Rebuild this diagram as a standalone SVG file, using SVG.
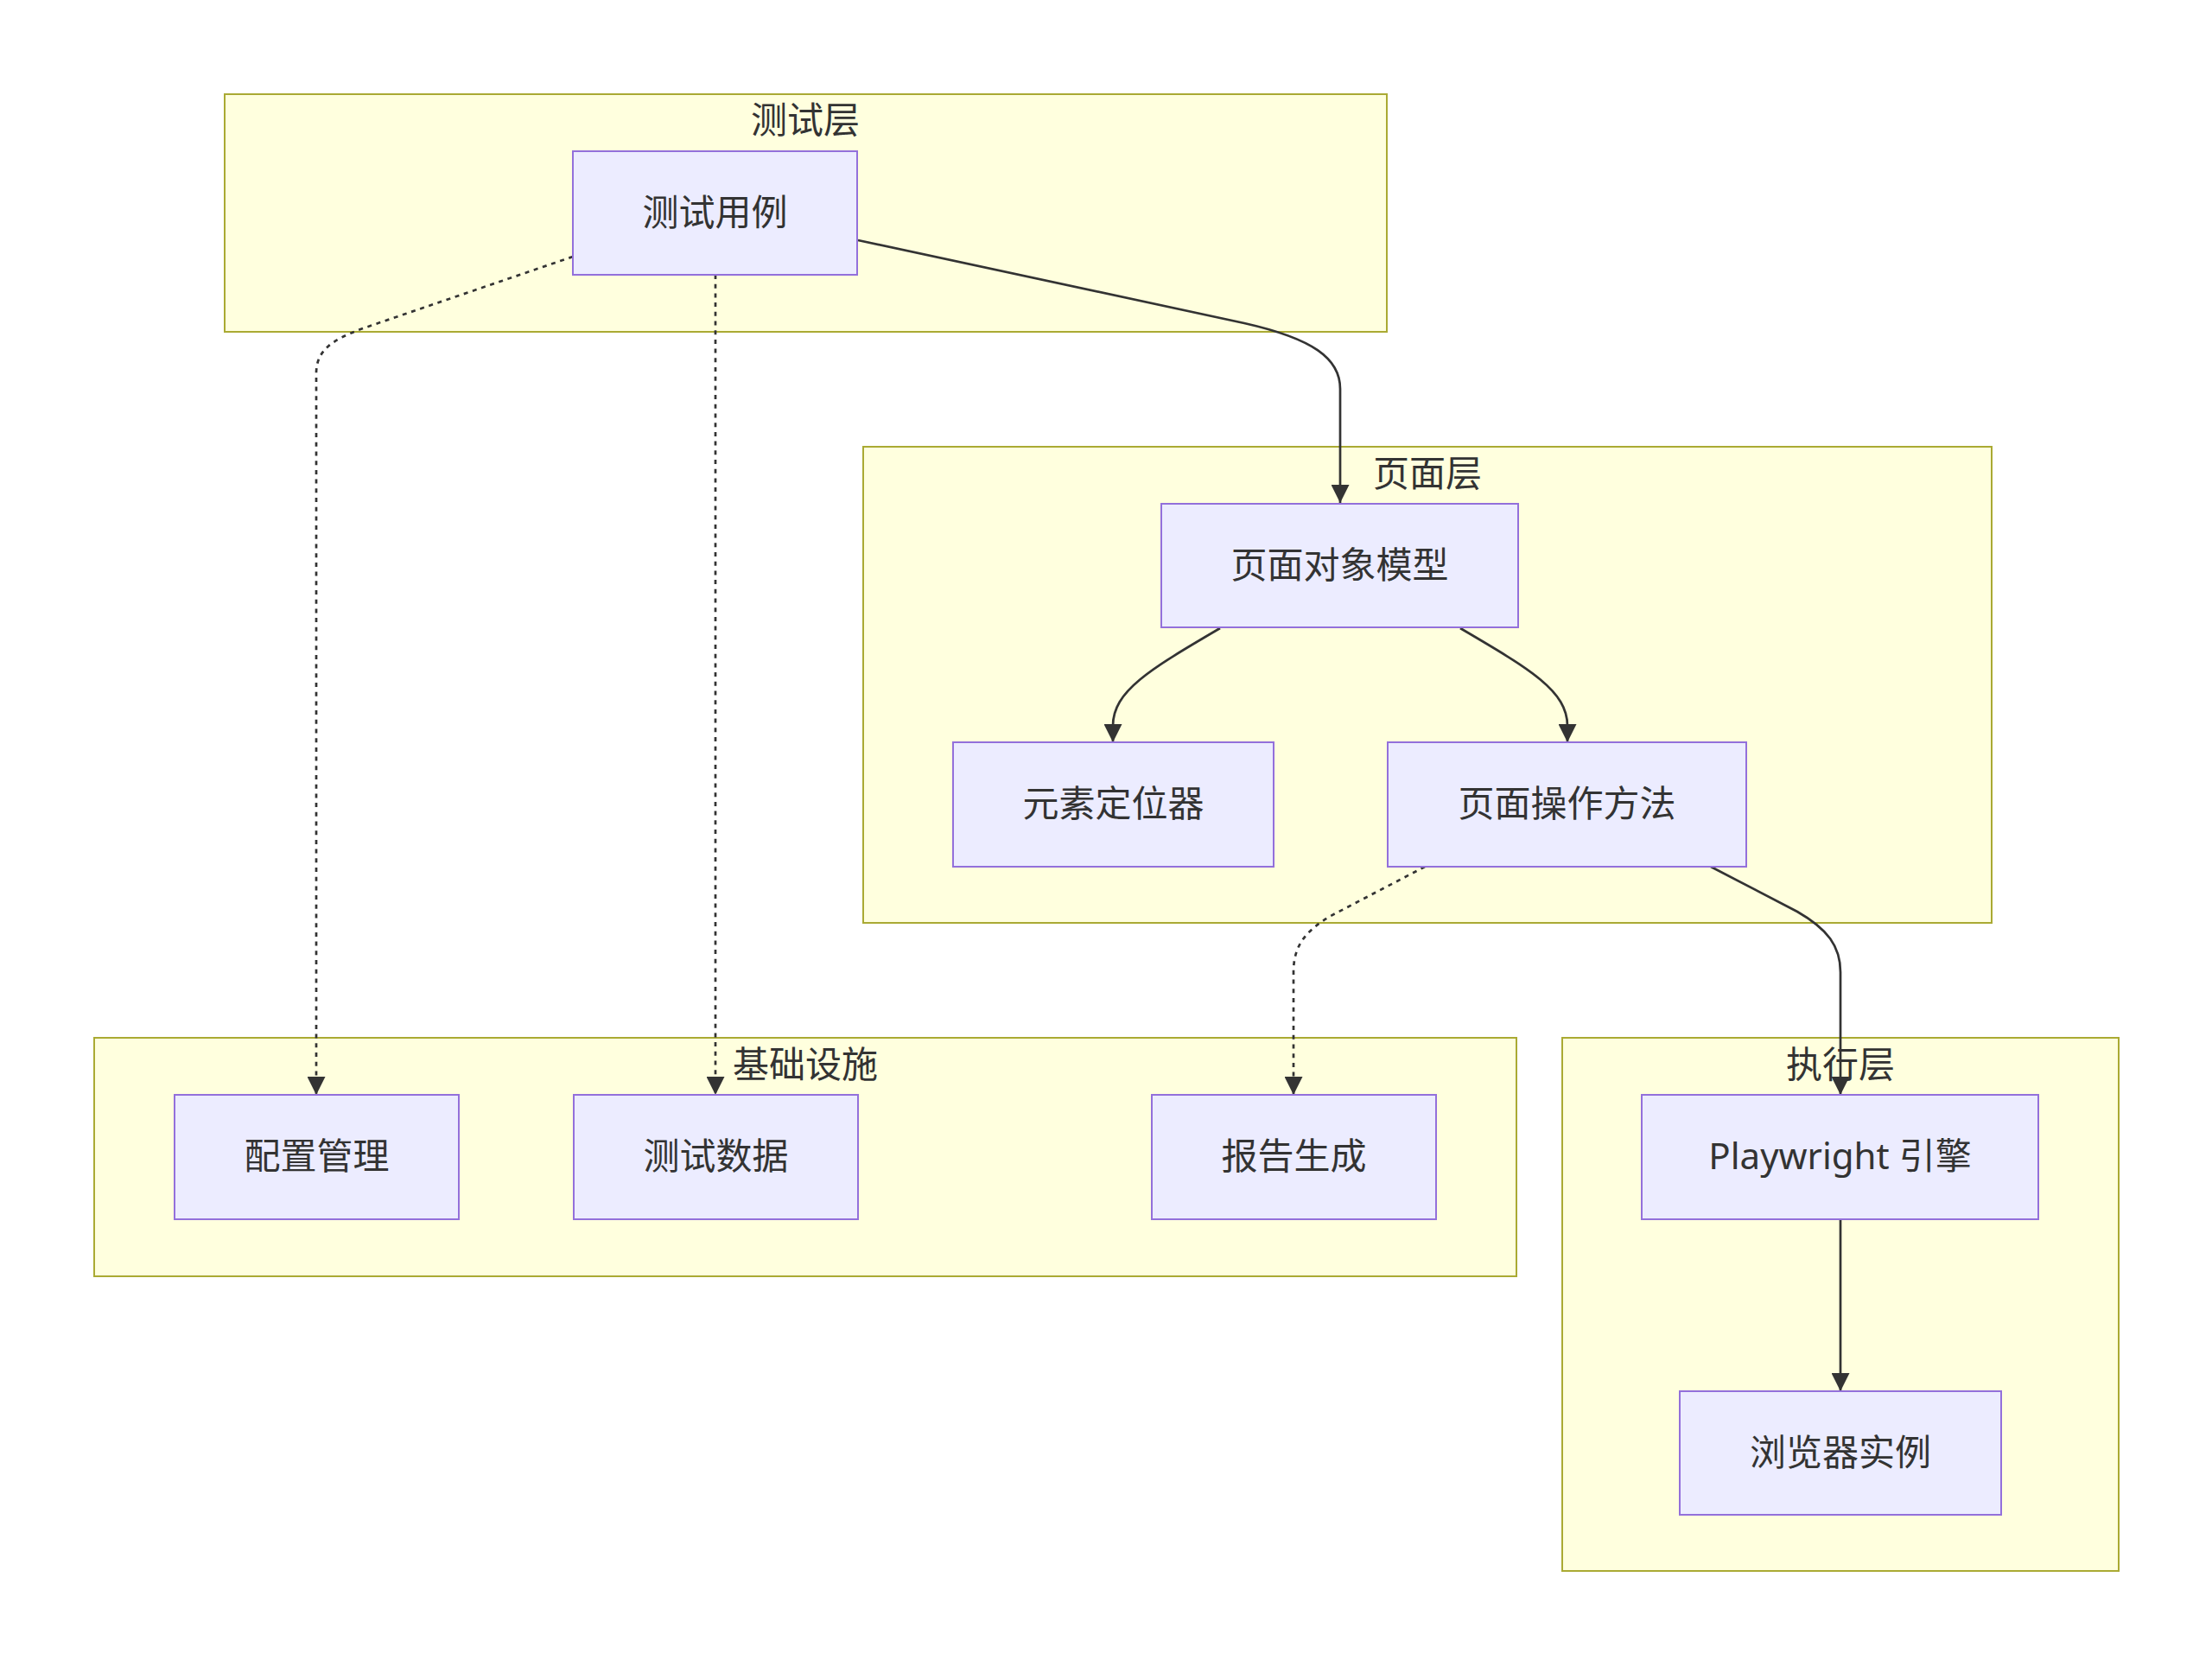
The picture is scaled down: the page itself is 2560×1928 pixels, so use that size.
<svg xmlns="http://www.w3.org/2000/svg" width="2560" height="1928" viewBox="0 0 2560 1928">
<defs>
<marker id="arrow" viewBox="0 0 10 10" refX="10" refY="5" markerUnits="userSpaceOnUse" markerWidth="21" markerHeight="21" orient="auto">
<path d="M0,0 L10,5 L0,10 z" fill="#333333"/>
</marker>
<style>
.cluster rect{fill:#ffffde;stroke:#aaaa33;stroke-width:2}
.node rect{fill:#ECECFF;stroke:#9370DB;stroke-width:2}
text{font-family:"Noto Sans","Noto Sans CJK SC",sans-serif;font-size:42px;fill:#333333;text-anchor:middle;dominant-baseline:central}
.edge{fill:none;stroke:#333333;stroke-width:2.7;marker-end:url(#arrow)}
.dotted{stroke-dasharray:5 5.7}
</style>
</defs>
<rect width="2560" height="1928" fill="#ffffff"/>
<g id="clusters">
<g id="cluster-test" class="cluster"><rect x="260" y="109" width="1345" height="275"/><text x="932" y="137">测试层</text></g>
<g id="cluster-page" class="cluster"><rect x="999" y="517" width="1306" height="551"/><text x="1652" y="546">页面层</text></g>
<g id="cluster-infra" class="cluster"><rect x="109" y="1201" width="1646" height="276"/><text x="932" y="1230">基础设施</text></g>
<g id="cluster-exec" class="cluster"><rect x="1808" y="1201" width="644" height="617"/><text x="2130" y="1230">执行层</text></g>
</g>
<g id="connectors">
<path class="edge" d="M993,278 L1440,374 C1520,392 1551,415 1551,450 L1551,582"/>
<path class="edge dotted" d="M663,297 L420,380 C385,393 366,405 366,432 L366,1267"/>
<path class="edge dotted" d="M828,318 L828,1267"/>
<path class="edge" d="M1412,727 C1330,775 1288,800 1288,840 L1288,859"/>
<path class="edge" d="M1690,727 C1772,775 1814,800 1814,840 L1814,859"/>
<path class="edge dotted" d="M1649,1003 L1540,1060 C1510,1078 1497,1095 1497,1125 L1497,1267"/>
<path class="edge" d="M1980,1003 L2080,1055 C2115,1075 2130,1095 2130,1125 L2130,1267"/>
<path class="edge" d="M2130,1411 L2130,1610"/>
</g>
<g id="node-testcase" class="node"><rect x="663" y="175" width="329" height="143"/><text x="827.5" y="244">测试用例</text></g>
<g id="node-pom" class="node"><rect x="1344" y="583" width="413" height="143"/><text x="1550.5" y="652">页面对象模型</text></g>
<g id="node-locator" class="node"><rect x="1103" y="859" width="371" height="144"/><text x="1288.5" y="928.5">元素定位器</text></g>
<g id="node-actions" class="node"><rect x="1606" y="859" width="415" height="144"/><text x="1813.5" y="928.5">页面操作方法</text></g>
<g id="node-config" class="node"><rect x="202" y="1267" width="329" height="144"/><text x="366.5" y="1336.5">配置管理</text></g>
<g id="node-data" class="node"><rect x="664" y="1267" width="329" height="144"/><text x="828.5" y="1336.5">测试数据</text></g>
<g id="node-report" class="node"><rect x="1333" y="1267" width="329" height="144"/><text x="1497.5" y="1336.5">报告生成</text></g>
<g id="node-engine" class="node"><rect x="1900" y="1267" width="459" height="144"/><text x="2129.5" y="1336.5">Playwright 引擎</text></g>
<g id="node-browser" class="node"><rect x="1944" y="1610" width="372" height="143"/><text x="2130" y="1679">浏览器实例</text></g>
</svg>
